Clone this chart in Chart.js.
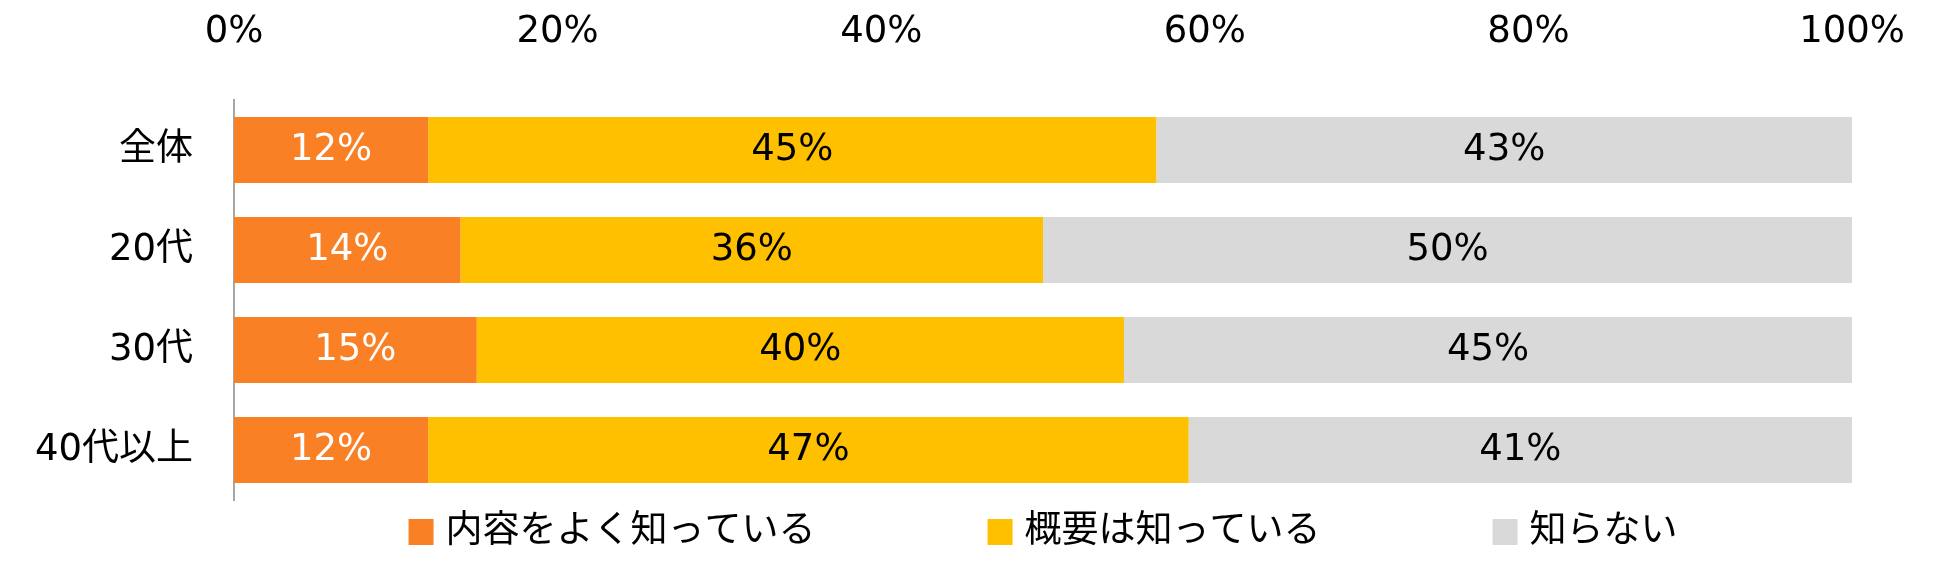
<!DOCTYPE html>
<html>
<head>
<meta charset="utf-8">
<script src="https://cdn.jsdelivr.net/npm/chart.js@4.4.1/dist/chart.umd.min.js"></script>
<style>
  body { margin: 0; background: #fff; }
</style>
</head>
<body>
<canvas id="myChart" width="1950" height="575"></canvas>
<script>
// データ
const categories = ['全体', '20代', '30代', '40代以上'];
const seriesNames = ['内容をよく知っている', '概要は知っている', '知らない'];
const knowWell = [12, 14, 15, 12];
const knowOutline = [45, 36, 40, 47];
const dontKnow = [43, 50, 45, 41];
const tickValues = [0, 20, 40, 60, 80, 100];

const colors = ['#FA8025', '#FFC000', '#D9D9D9'];
const labelColors = ['#FFFFFF', '#000000', '#000000'];
const FONT = "'DejaVu Sans', 'Noto Sans CJK JP', sans-serif";

// ラベルをバーの中央に描く
const barLabels = {
    id: 'barLabels',
    afterDatasetsDraw(chart) {
        const ctx = chart.ctx;
        ctx.save();
        ctx.font = '37px ' + FONT;
        ctx.textAlign = 'center';
        ctx.textBaseline = 'middle';
        chart.data.datasets.forEach((ds, i) => {
            chart.getDatasetMeta(i).data.forEach((bar, j) => {
                const p = bar.getCenterPoint();
                ctx.fillStyle = labelColors[i];
                ctx.fillText(ds.data[j] + '%', p.x, p.y);
            });
        });
        ctx.restore();
    }
};

// 凡例（項目の間を広くとる）
const wideLegend = {
    id: 'wideLegend',
    afterDraw(chart) {
        const ctx = chart.ctx;
        const area = chart.chartArea;
        const box = 25, gap = 12, spacing = 172;
        ctx.save();
        ctx.font = '37px ' + FONT;
        ctx.textBaseline = 'middle';
        const widths = chart.data.datasets.map(ds => box + gap + ctx.measureText(ds.label).width);
        const total = widths.reduce((a, b) => a + b, 0) + spacing * (widths.length - 1);
        let x = (area.left + area.right) / 2 - total / 2;
        const y = 532;
        chart.data.datasets.forEach((ds, i) => {
            ctx.fillStyle = ds.backgroundColor;
            ctx.fillRect(x, y - 13, box, 26);
            ctx.fillStyle = '#000';
            ctx.textAlign = 'left';
            ctx.fillText(ds.label, x + box + gap, y);
            x += widths[i] + spacing;
        });
        ctx.restore();
    }
};

const ctx = document.getElementById('myChart').getContext('2d');
const myChart = new Chart(ctx, {
    type: 'bar',
    data: {
        labels: categories,
        datasets: [knowWell, knowOutline, dontKnow].map((values, i) => ({
            label: seriesNames[i],
            data: values,
            backgroundColor: colors[i],
            borderWidth: 0,
            categoryPercentage: 0.66,
            barPercentage: 1
        }))
    },
    options: {
        indexAxis: 'y',
        responsive: false,
        animation: false,
        layout: {
            padding: { top: 0, right: 94, bottom: 75, left: 0 }
        },
        scales: {
            x: {
                position: 'top',
                stacked: true,
                min: 0,
                max: 100,
                afterBuildTicks: (scale) => {
                    scale.ticks = tickValues.map(v => ({ value: v }));
                },
                afterFit: (scale) => { scale.height = 100; },
                grid: { display: false, drawTicks: false },
                border: { display: false },
                ticks: {
                    padding: 45,
                    color: '#000',
                    font: { family: FONT, size: 37 },
                    callback: (v) => v + '%'
                }
            },
            y: {
                stacked: true,
                afterFit: (scale) => { scale.width = 234; },
                grid: { display: false, drawTicks: false },
                border: { display: true, color: '#A6A6A6', width: 2 },
                ticks: {
                    padding: 41,
                    color: '#000',
                    font: { family: FONT, size: 37 }
                }
            }
        },
        plugins: {
            legend: { display: false },
            tooltip: { enabled: false }
        }
    },
    plugins: [barLabels, wideLegend]
});
</script>
</body>
</html>
